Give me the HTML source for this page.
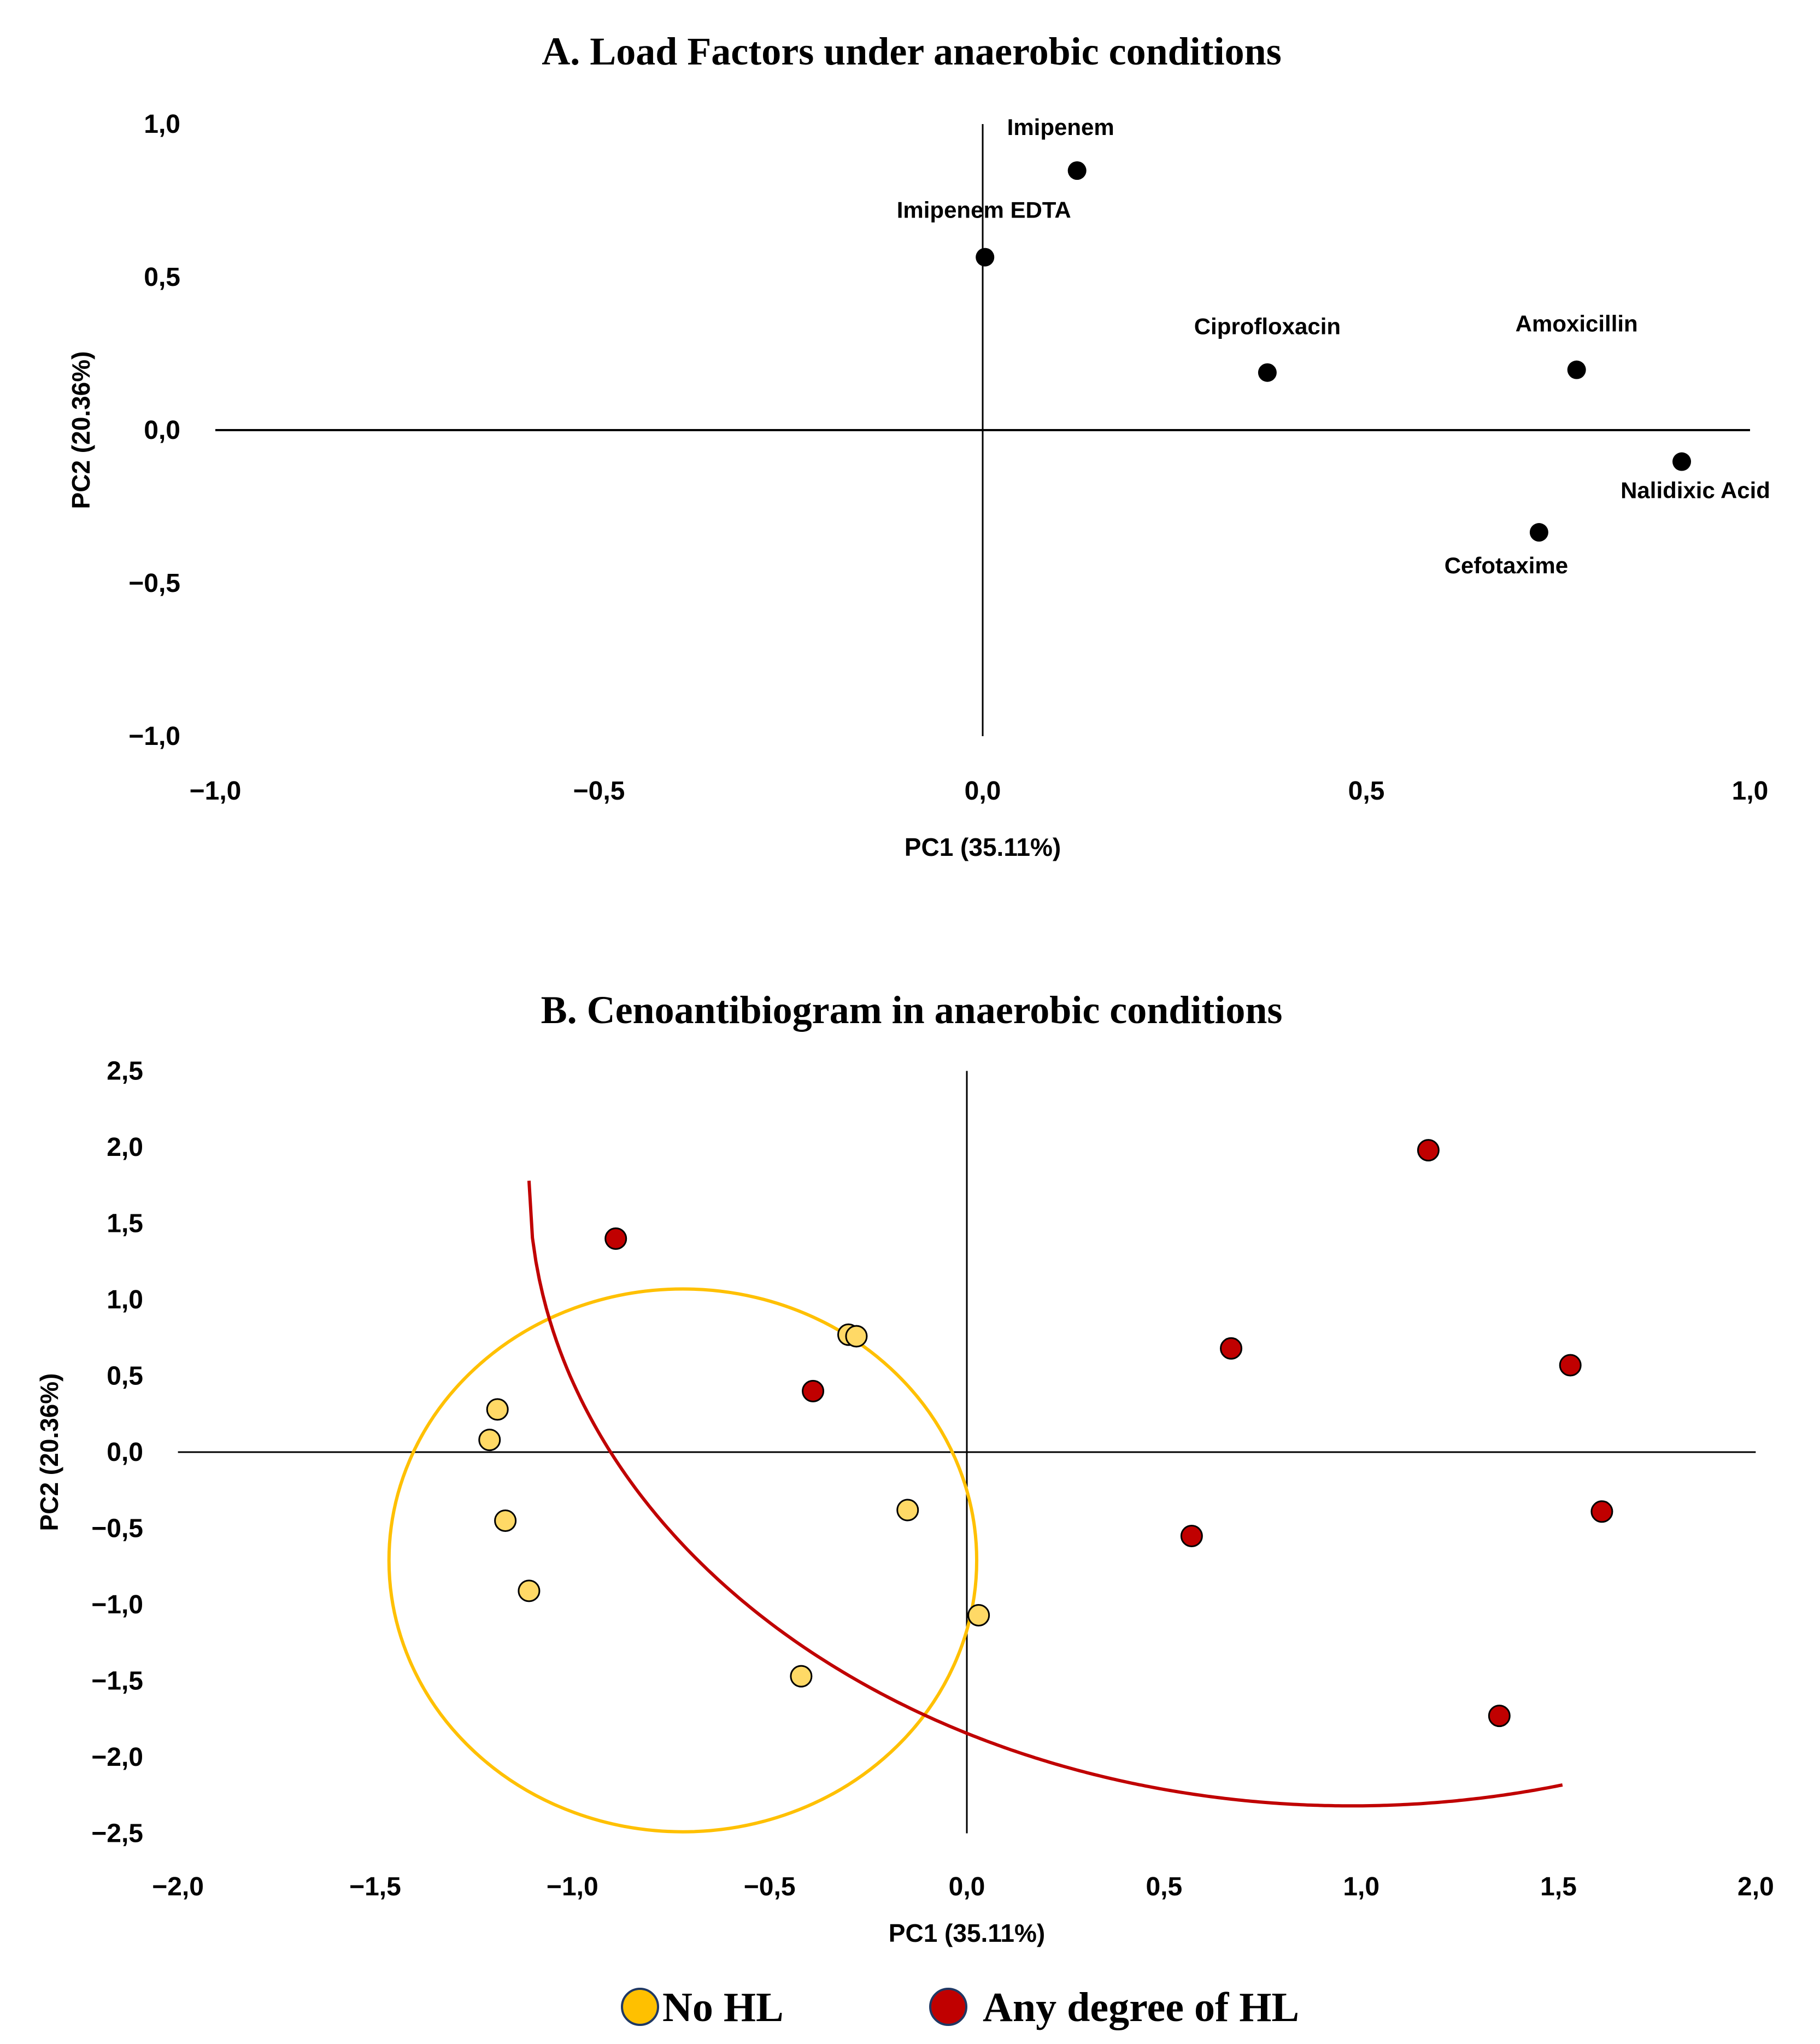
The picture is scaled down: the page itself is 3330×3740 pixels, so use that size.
<!DOCTYPE html>
<html><head><meta charset="utf-8"><style>
html,body{margin:0;padding:0;background:#fff}
svg{display:block}
text{font-family:"Liberation Sans",sans-serif;font-weight:bold;fill:#000}
.ttl{font-family:"Liberation Serif",serif;font-size:72px}
.tick{font-size:48px}
.lbl{font-size:42px}
.ax{font-size:46px}
.leg{font-family:"Liberation Serif",serif;font-size:76px;font-weight:bold}
</style></head><body>
<svg id="c" width="3330" height="3740" viewBox="0 0 3330 3740" xmlns="http://www.w3.org/2000/svg">
<text class="ttl" x="1668" y="118" text-anchor="middle">A. Load Factors under anaerobic conditions</text>
<text class="ax" x="1798" y="1566" text-anchor="middle">PC1 (35.11%)</text>
<text class="ax" transform="translate(164,787) rotate(-90)" text-anchor="middle">PC2 (20.36%)</text>
<text class="ttl" x="1668" y="1872" text-anchor="middle">B. Cenoantibiogram in anaerobic conditions</text>
<text class="ax" x="1769" y="3553" text-anchor="middle">PC1 (35.11%)</text>
<text class="ax" transform="translate(106,2657) rotate(-90)" text-anchor="middle">PC2 (20.36%)</text>
<g>
<circle cx="1171" cy="3672" r="33" fill="#FFC000" stroke="#1F3864" stroke-width="4"/>
<text class="leg" x="1212" y="3698">No HL</text>
<circle cx="1735" cy="3672" r="33" fill="#C00000" stroke="#1F3864" stroke-width="4"/>
<text class="leg" x="1798" y="3698">Any degree of HL</text>
</g>
</svg>
<script>
// Chart A data
const aNames=["Imipenem","Imipenem EDTA","Ciprofloxacin","Amoxicillin","Nalidixic Acid","Cefotaxime"];
const aPC1=[0.123,0.003,0.371,0.774,0.911,0.725];
const aPC2=[0.848,0.565,0.188,0.197,-0.103,-0.334];
const aTicks=[-1,-0.5,0,0.5,1];
const aTickLabels=["\u22121,0","\u22120,5","0,0","0,5","1,0"];
// Chart B data
const bTicksX=[-2,-1.5,-1,-0.5,0,0.5,1,1.5,2];
const bTickLabelsX=["\u22122,0","\u22121,5","\u22121,0","\u22120,5","0,0","0,5","1,0","1,5","2,0"];
const bTicksY=[2.5,2,1.5,1,0.5,0,-0.5,-1,-1.5,-2,-2.5];
const bTickLabelsY=["2,5","2,0","1,5","1,0","0,5","0,0","\u22120,5","\u22121,0","\u22121,5","\u22122,0","\u22122,5"];
const noHlPC1=[-0.30,-0.28,-1.19,-1.21,-1.17,-1.11,-0.15,0.03,-0.42];
const noHlPC2=[0.77,0.76,0.28,0.08,-0.45,-0.91,-0.38,-1.07,-1.47];
const hlPC1=[1.17,-0.89,0.67,1.53,-0.39,0.57,1.61,1.35];
const hlPC2=[1.98,1.40,0.68,0.57,0.40,-0.55,-0.39,-1.73];
const noHlEllipse=[-0.72,-0.71,0.745,1.78]; // cx, cy, rx, ry
const hlArc=[0.975,1.78,2.085,4.1]; // cx, cy, rx, ry
const hlArcRange=[-1.11,1.51];

const NS="http://www.w3.org/2000/svg";
const svg=document.getElementById('c');
function mk(t,a,p){const e=document.createElementNS(NS,t);for(const k in a)e.setAttribute(k,a[k]);(p||svg).appendChild(e);return e;}

// Chart A axes
const ax=v=>1798+v*1404, ay=v=>787-v*560;
const gA=mk('g',{});


let l=mk('line',{x1:ax(-1),x2:ax(1),y1:ay(0),y2:ay(0),stroke:'#000','stroke-width':4},gA);


l=mk('line',{x1:ax(0),x2:ax(0),y1:ay(1),y2:ay(-1),stroke:'#000','stroke-width':3},gA);


aTicks.forEach((v,i)=>{
  let t=mk('text',{class:'tick',x:ax(v),y:1463,'text-anchor':'middle'},gA);t.textContent=aTickLabels[i];
  
  
  t=mk('text',{class:'tick',x:330,y:ay(v)+16,'text-anchor':'end'},gA);t.textContent=aTickLabels[i];
  
  
});
const aLblOff=[[-30,-65,'middle'],[-2,-72,'middle'],[0,-70,'middle'],[0,-70,'middle'],[25,67,'middle'],[-60,75,'middle']];
aNames.forEach((n,i)=>{
  const c=mk('circle',{cx:ax(aPC1[i]),cy:ay(aPC2[i]),r:17,fill:'#000'},gA);
  
  
  const t=mk('text',{class:'lbl',x:ax(aPC1[i])+aLblOff[i][0],y:ay(aPC2[i])+aLblOff[i][1],'text-anchor':aLblOff[i][2]},gA);
  t.textContent=n;
  
  
});

// Chart B
const bx=v=>1769+v*721.7, by=v=>2657-v*279;
const gB=mk('g',{});


l=mk('line',{x1:bx(-2),x2:bx(2),y1:by(0),y2:by(0),stroke:'#000','stroke-width':3},gB);


l=mk('line',{x1:bx(0),x2:bx(0),y1:by(2.5),y2:by(-2.5),stroke:'#000','stroke-width':3},gB);


bTicksX.forEach((v,i)=>{
  const t=mk('text',{class:'tick',x:bx(v),y:3468,'text-anchor':'middle'},gB);t.textContent=bTickLabelsX[i];
  
  
});
bTicksY.forEach((v,i)=>{
  const t=mk('text',{class:'tick',x:262,y:by(v)+16,'text-anchor':'end'},gB);t.textContent=bTickLabelsY[i];
  
  
});
const e=mk('ellipse',{cx:bx(noHlEllipse[0]),cy:by(noHlEllipse[1]),rx:noHlEllipse[2]*721.7,ry:noHlEllipse[3]*279,fill:'none',stroke:'#FFC000','stroke-width':6},gB);


let d='';
for(let k=0;k<=300;k++){
  const th=Math.PI+Math.acos(Math.max(-1,Math.min(1,(hlArcRange[0]-hlArc[0])/hlArc[2])))*0+0;
  const x=hlArcRange[0]+(hlArcRange[1]-hlArcRange[0])*k/300;
  const u=Math.max(-1,Math.min(1,(x-hlArc[0])/hlArc[2]));
  const y=hlArc[1]-hlArc[3]*Math.sqrt(1-u*u);
  d+=(k?'L':'M')+bx(x).toFixed(1)+' '+by(y).toFixed(1);
}
const p=mk('path',{d:d,fill:'none',stroke:'#C00000','stroke-width':6},gB);


noHlPC1.forEach((v,i)=>{
  const c=mk('circle',{cx:bx(v),cy:by(noHlPC2[i]),r:19,fill:'#FFD966',stroke:'#000','stroke-width':3},gB);
  
  
});
hlPC1.forEach((v,i)=>{
  const c=mk('circle',{cx:bx(v),cy:by(hlPC2[i]),r:19,fill:'#C00000',stroke:'#000','stroke-width':3},gB);
  
  
});
</script>
</body></html>
